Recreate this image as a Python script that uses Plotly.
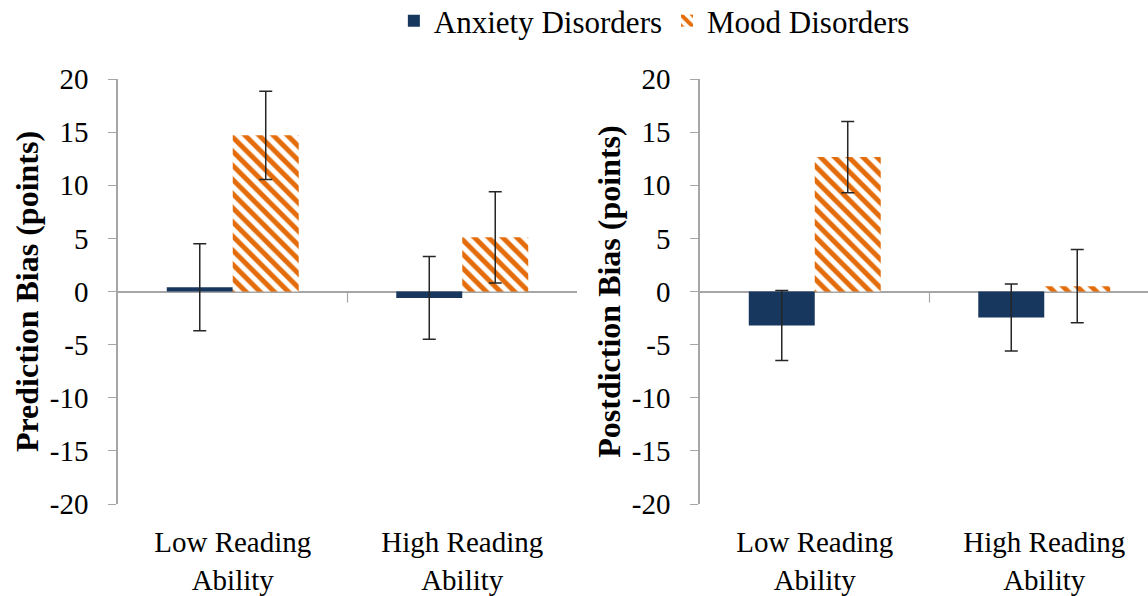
import plotly.graph_objects as go

# Reading-ability groups shown on both panels
categories = ["Low Reading<br>Ability", "High Reading<br>Ability"]

# Prediction bias (points) with error-bar half widths
pred_anxiety = [0.4, -0.6]
pred_anxiety_err = [4.1, 3.9]
pred_mood = [14.7, 5.1]
pred_mood_err = [4.15, 4.3]

# Postdiction bias (points) with error-bar half widths
post_anxiety = [-3.2, -2.45]
post_anxiety_err = [3.3, 3.15]
post_mood = [12.65, 0.5]
post_mood_err = [3.35, 3.45]

y_ticks = [-20, -15, -10, -5, 0, 5, 10, 15, 20]
y_tick_text = [str(v) for v in y_ticks]

W, H = 1148, 596
FONT = "Liberation Serif"
NAVY = "#17375E"
ORANGE = "#E46C0A"
AXIS_GREY = "#A6A6A6"
ERR_COLOR = "#262626"


def err(vals):
    return dict(type="data", array=vals, visible=True, color=ERR_COLOR,
                thickness=1.5, width=6.5)


fig = go.Figure()

panels = [
    ("x", "y", pred_anxiety, pred_anxiety_err, pred_mood, pred_mood_err, True),
    ("x2", "y2", post_anxiety, post_anxiety_err, post_mood, post_mood_err, False),
]
for xa, ya, anx, anx_e, mood, mood_e, show in panels:
    fig.add_trace(go.Bar(
        x=categories, y=anx, name="Anxiety Disorders", legendgroup="anx",
        showlegend=show, xaxis=xa, yaxis=ya,
        marker=dict(color=NAVY, line=dict(width=0)),
        error_y=err(anx_e),
    ))
    fig.add_trace(go.Bar(
        x=categories, y=mood, name="Mood Disorders", legendgroup="mood",
        showlegend=show, xaxis=xa, yaxis=ya,
        marker=dict(color="white", line=dict(width=0),
                    pattern=dict(shape="\\", fgcolor=ORANGE, bgcolor="white",
                                 fgopacity=1, size=10, solidity=0.5)),
        error_y=err(mood_e),
    ))

# Plot-area placement (pixels)
y_top, y_bot = 79, 504
left_x0, left_x1 = 118, 577
right_x0 = 700
cat_w = (left_x1 - left_x0) / len(categories)
right_x1 = right_x0 + cat_w * len(categories)
right_range_end = len(categories) - 0.5 - max(0, right_x1 - W) / cat_w

ydom = [(H - y_bot) / H, (H - y_top) / H]

yaxis_common = dict(
    range=[-20, 20], tickvals=y_ticks, ticktext=y_tick_text,
    ticks="outside", ticklen=8,
    tickcolor=AXIS_GREY, tickwidth=1.2, showline=True, linecolor=AXIS_GREY,
    linewidth=1.5, showgrid=False, zeroline=True, zerolinecolor=AXIS_GREY,
    zerolinewidth=1.5, tickfont=dict(family=FONT, size=29, color="black"),
    ticklabelstandoff=14, automargin=False, domain=ydom,
)
xaxis_common = dict(
    type="category", showline=False, ticks="", showgrid=False, zeroline=False,
    tickfont=dict(family=FONT, size=29, color="black"),
    ticklabelstandoff=18, automargin=False,
)

title_font = dict(family=FONT, size=32, color="black")

fig.update_layout(
    width=W, height=H,
    margin=dict(l=0, r=0, t=0, b=0, autoexpand=False),
    paper_bgcolor="white", plot_bgcolor="white",
    barmode="group", bargap=0.425, bargroupgap=0,
    font=dict(family=FONT, color="black"),
    xaxis=dict(domain=[left_x0 / W, left_x1 / W], anchor="y",
               range=[-0.5, len(categories) - 0.5], **xaxis_common),
    xaxis2=dict(domain=[right_x0 / W, 1.0], anchor="y2",
                range=[-0.5, right_range_end], **xaxis_common),
    yaxis=dict(anchor="x",
               title=dict(text="<b>Prediction Bias (points)</b>",
                          font=title_font, standoff=2),
               **yaxis_common),
    yaxis2=dict(anchor="x2",
                title=dict(text="<b>Postdiction Bias (points)</b>",
                           font=title_font, standoff=2),
                **yaxis_common),
    legend=dict(orientation="h", x=0.57, xanchor="center",
                y=1 - 21 / H, yanchor="middle",
                font=dict(family=FONT, size=31, color="black"),
                itemsizing="constant", traceorder="normal",
                bgcolor="rgba(0,0,0,0)"),
)

# Category-boundary tick marks hanging below the zero line
for xref, yref in (("x", "y"), ("x2", "y2")):
    for i in range(len(categories) - 1):
        fig.add_shape(type="line", xref=xref, yref=yref,
                      x0=i + 0.5, x1=i + 0.5, ysizemode="pixel", yanchor=0,
                      y0=0, y1=-11, line=dict(color=AXIS_GREY, width=1.2))

fig.write_html("out.html")
